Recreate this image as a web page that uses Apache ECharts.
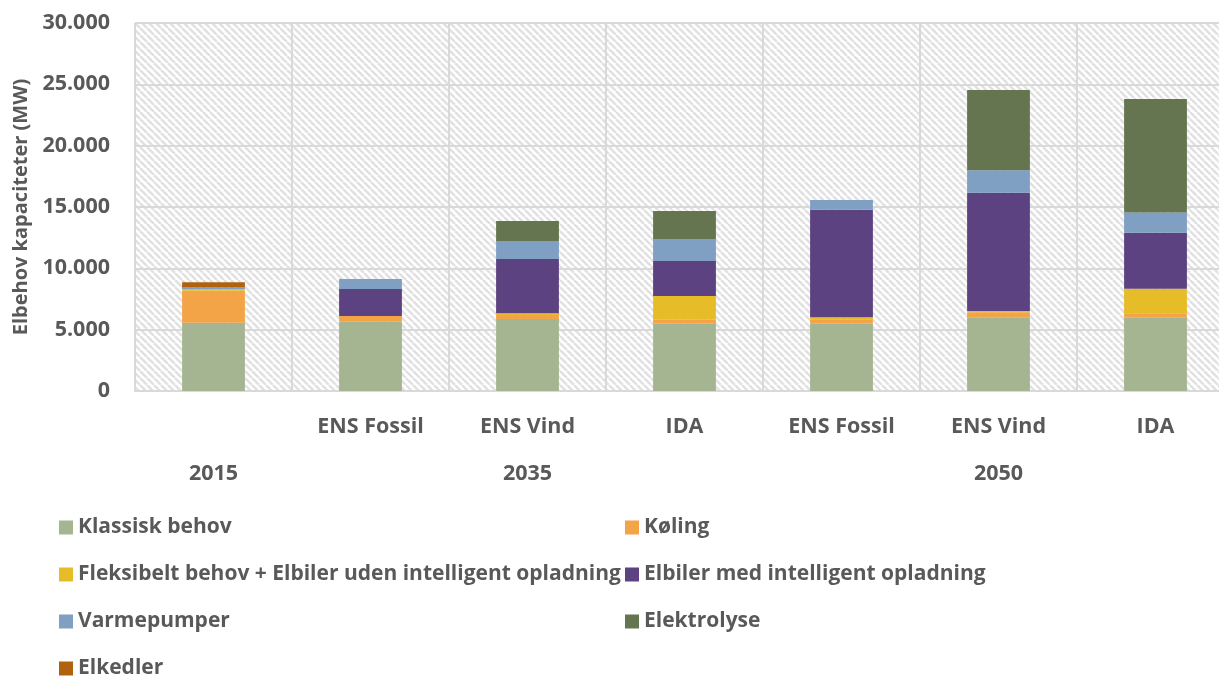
<!DOCTYPE html>
<html>
<head>
<meta charset="utf-8">
<script src="https://cdn.jsdelivr.net/npm/echarts@6/dist/echarts.min.js"></script>
<style>
  html, body { margin: 0; padding: 0; background: #fff; }
  #chart { width: 1219px; height: 677px; }
</style>
</head>
<body>
<div id="chart"></div>
<script>
// kategorier (scenarie + år)
const scenarios = ['', 'ENS Fossil', 'ENS Vind', 'IDA', 'ENS Fossil', 'ENS Vind', 'IDA']
const years = ['2015', '2035', '2035', '2035', '2050', '2050', '2050']

// MW pr. kategori
const klassisk = [5570, 5650, 5870, 5490, 5490, 5975, 5975]
const koling = [2600, 460, 325, 320, 355, 435, 355]
const fleksibelt = [130, 0, 135, 1930, 160, 110, 2010]
const elbiler = [0, 2200, 4430, 2860, 8780, 9650, 4560]
const varmepumper = [140, 820, 1470, 1790, 790, 1830, 1660]
const elektrolyse = [0, 0, 1630, 2280, 0, 6540, 9240]
const elkedler = [430, 0, 0, 0, 0, 0, 0]

const yTicks = [0, 5000, 10000, 15000, 20000, 25000, 30000]

const catKeys = scenarios.map((s, i) => years[i] + ' ' + s)
const txt = '#595959'
const grid_c = '#d9d9d9'
const font = 'Open Sans'

// skraveret baggrund i plotområdet
function hatch() {
  const s = 7
  const c = document.createElement('canvas')
  c.width = s; c.height = s
  const ctx = c.getContext('2d')
  ctx.fillStyle = '#fff'
  ctx.fillRect(0, 0, s, s)
  ctx.strokeStyle = '#e1e1e1'
  ctx.lineWidth = 2.5
  for (const k of [-s, 0, s]) {
    ctx.beginPath()
    ctx.moveTo(k, 0)
    ctx.lineTo(k + s, s)
    ctx.stroke()
  }
  return c
}

const chart = echarts.init(document.getElementById('chart'))

function bar(name, data, color) {
  return {
    name: name,
    type: 'bar',
    stack: 'total',
    barWidth: '40%',
    data: data,
    itemStyle: { color: color }
  }
}

const labelStyle = { color: txt, fontFamily: font, fontWeight: 'bold', fontSize: 21.5 }
const legendText = { color: txt, fontFamily: font, fontWeight: 'bold', fontSize: 21 }

function legend(left, top, names) {
  return {
    left: left, top: top, orient: 'vertical', padding: 0,
    icon: 'rect', itemWidth: 14, itemHeight: 14, itemGap: 26,
    textStyle: legendText,
    data: names
  }
}

const option = {
  animation: false,
  grid: {
    left: 135,
    right: -15,
    top: 23,
    bottom: 286,
    outerBoundsMode: 'none',
    containLabel: false,
    show: true,
    borderWidth: 0,
    backgroundColor: { image: hatch(), repeat: 'repeat' }
  },
  legend: [
    legend(59, 517, ['Klassisk behov', 'Fleksibelt behov + Elbiler uden intelligent opladning', 'Varmepumper']),
    legend(59, 658, ['Elkedler']),
    legend(625, 517, ['Køling', 'Elbiler med intelligent opladning', 'Elektrolyse'])
  ],
  xAxis: [
    {
      type: 'category',
      position: 'bottom',
      data: catKeys,
      axisLine: { lineStyle: { color: grid_c, width: 2 } },
      axisTick: {
        length: 101,
        interval: (i) => i === 0 || years[i] !== years[i - 1],
        lineStyle: { color: grid_c, width: 2 }
      },
      splitLine: { show: true, interval: 0, lineStyle: { color: grid_c, width: 2 } },
      axisLabel: {
        ...labelStyle,
        interval: 0,
        margin: 25,
        formatter: (v, i) => scenarios[i]
      }
    },
    {
      type: 'category',
      position: 'bottom',
      data: catKeys,
      axisLine: { show: false },
      axisTick: { show: false },
      splitLine: { show: false },
      axisLabel: {
        ...labelStyle,
        interval: 0,
        margin: 72,
        // årstal kun midt i hver gruppe
        formatter: (v, i) => {
          const idx = years.map((y, j) => j).filter(j => years[j] === years[i])
          return idx[Math.floor(idx.length / 2)] === i ? years[i] : ''
        }
      }
    }
  ],
  yAxis: {
    type: 'value',
    min: yTicks[0],
    max: yTicks[yTicks.length - 1],
    interval: 5000,
    name: 'Elbehov kapaciteter (MW)',
    nameLocation: 'middle',
    nameRotate: 90,
    nameGap: 102,
    nameTextStyle: { color: txt, fontFamily: font, fontWeight: 'bold', fontSize: 20 },
    axisLine: { show: false },
    axisTick: { show: false },
    splitLine: { lineStyle: { color: grid_c, width: 2 } },
    axisLabel: {
      ...labelStyle,
      margin: 25,
      formatter: (v) => v === 0 ? '0' : String(v).replace(/\B(?=(\d{3})+(?!\d))/g, '.')
    }
  },
  series: [
    bar('Klassisk behov', klassisk, '#a5b592'),
    bar('Køling', koling, '#f3a447'),
    bar('Fleksibelt behov + Elbiler uden intelligent opladning', fleksibelt, '#e7bc29'),
    bar('Elbiler med intelligent opladning', elbiler, '#5c4280'),
    bar('Varmepumper', varmepumper, '#7f9fc3'),
    bar('Elektrolyse', elektrolyse, '#647550'),
    bar('Elkedler', elkedler, '#b0620f')
  ]
}

chart.setOption(option)
</script>
</body>
</html>
